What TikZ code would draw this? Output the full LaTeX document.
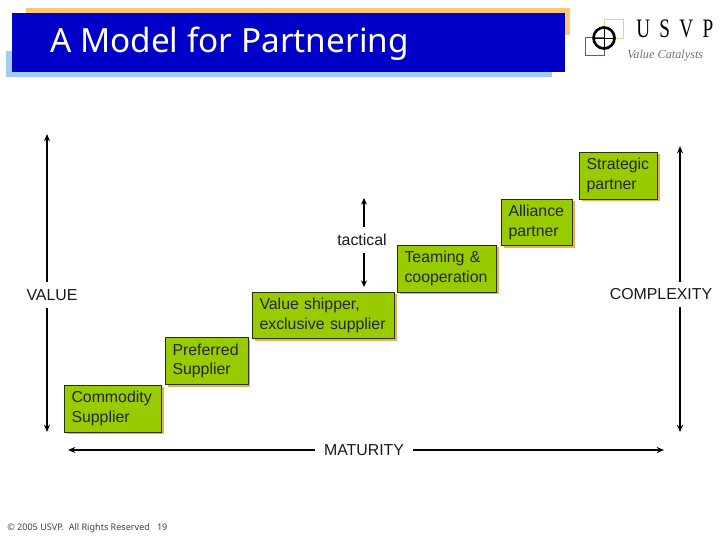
\documentclass[tikz,border=0pt]{standalone}
\usepackage{fontspec}
\usetikzlibrary{arrows.meta}
\setmainfont{Liberation Sans}
\newfontfamily\titlefont{Noto Sans}
\newfontfamily\logofont[FakeStretch=0.72]{Liberation Serif}
\newfontfamily\catfont{Liberation Serif}
\definecolor{barblue}{RGB}{0,0,200}
\definecolor{barorange}{RGB}{250,200,120}
\definecolor{barlight}{RGB}{160,205,245}
\definecolor{stepgreen}{RGB}{153,204,0}
\definecolor{stepshadow}{RGB}{240,175,75}
\definecolor{logocream}{RGB}{225,210,150}
\definecolor{logoblue}{RGB}{90,90,160}
\tikzset{
  x=0.75pt,y=-0.75pt,
  px/.style={font=\fontsize{11.9pt}{14.6pt}\selectfont},
  stepbox/.style={px,draw=black!75!stepgreen,line width=0.7pt,fill=stepgreen,rectangle,align=left,anchor=north west,outer sep=0pt,inner ysep=0pt,text=black!85,
    preaction={draw=none,fill=stepshadow,transform canvas={shift={(1.6pt,-1.6pt)}}}},
  axislabel/.style={px,fill=white,inner xsep=1pt,inner ysep=5.5pt,text=black!90},
  axisarrow/.style={line width=1.5pt,{Stealth[length=5.5pt,width=4.5pt]}-{Stealth[length=5.5pt,width=4.5pt]}},
  thinarrow/.style={line width=0.8pt,{Stealth[length=5pt,width=4.5pt]}-{Stealth[length=5pt,width=4.5pt]}},
}
\newcommand{\stepnode}[6]{%
  \pgfmathsetlengthmacro{\stepw}{(#4-#2)*0.75pt}%
  \pgfmathsetlengthmacro{\steph}{(#5-#3)*0.75pt}%
  \pgfmathsetlengthmacro{\stept}{\stepw-10.5pt}%
  \node[stepbox,inner xsep=5.25pt,text width=\stept,minimum height=\steph] (#1) at (#2,#3) {#6};
}
\begin{document}
\begin{tikzpicture}
\useasboundingbox (0,0) rectangle (720,540);
% title bar
\fill[barorange] (26,8) rectangle (570,35);
\fill[barlight] (6,51) rectangle (552,77);
\fill[barblue] (12,13) rectangle (565,72);
\node[font=\titlefont\fontsize{25pt}{28pt}\selectfont,text=white,anchor=west,inner sep=0pt] (title) at (50,44) {A Model for Partnering};
% logo
\draw[logocream,line width=0.7pt] (604,19) rectangle (623,38);
\draw[logoblue,line width=0.7pt] (585,37) rectangle (604,55);
\draw[black,line width=2pt] (604,38) circle (10.5);
\draw[black,line width=0.6pt] (593.5,38) -- (614.5,38) (604,27.5) -- (604,48.5);
\node[font=\logofont\fontsize{20pt}{21pt}\selectfont,text=black,anchor=west,inner sep=0pt] (usvp) at (636,29) {U\hspace{7pt}S\hspace{7pt}V\hspace{7pt}P};
\node[font=\catfont\itshape\fontsize{9.2pt}{10pt}\selectfont,text=black!55,anchor=west,inner sep=0pt] (catalysts) at (627,56) {Value Catalysts};
% axes
\coordinate (valtop) at (47,134);
\coordinate (valbot) at (47,432);
\coordinate (cxtop) at (680,146);
\coordinate (cxbot) at (680,432);
\coordinate (tactop) at (364,198);
\coordinate (tacbot) at (364,287);
\coordinate (matl) at (68,450);
\coordinate (matr) at (664,450);
\draw[axisarrow] (valtop) -- (valbot);
\draw[axisarrow] (cxtop) -- (cxbot);
\draw[thinarrow] (tactop) -- (tacbot);
\draw[axisarrow] (matl) -- (matr);
\node[axislabel] (value) at (52,295) {VALUE};
\node[axislabel] (complexity) at (661,294.5) {COMPLEXITY};
\node[axislabel] (tactical) at (362,240) {tactical};
\node[axislabel,inner xsep=7pt] (maturity) at (364,450) {MATURITY};
% steps
\stepnode{commodity}{64.5}{385}{161.5}{432}{Commodity\\Supplier}
\stepnode{preferred}{165.5}{337.5}{248}{384.5}{Preferred\\Supplier}
\stepnode{shipper}{252.5}{292}{394.5}{338.5}{Value shipper,\\exclusive supplier}
\stepnode{teaming}{397.5}{245}{496.5}{292}{Teaming \&\\cooperation}
\stepnode{alliance}{501.5}{199}{572.5}{245.5}{Alliance\\partner}
\stepnode{strategic}{579.5}{152}{657.5}{199}{Strategic\\partner}
% footer
\node[font=\titlefont\fontsize{6.8pt}{8pt}\selectfont,text=black!75,anchor=west,inner sep=0pt] (foot) at (7,528) {© 2005 USVP.\ \ All Rights Reserved\ \ \ 19};
\end{tikzpicture}
\end{document}
